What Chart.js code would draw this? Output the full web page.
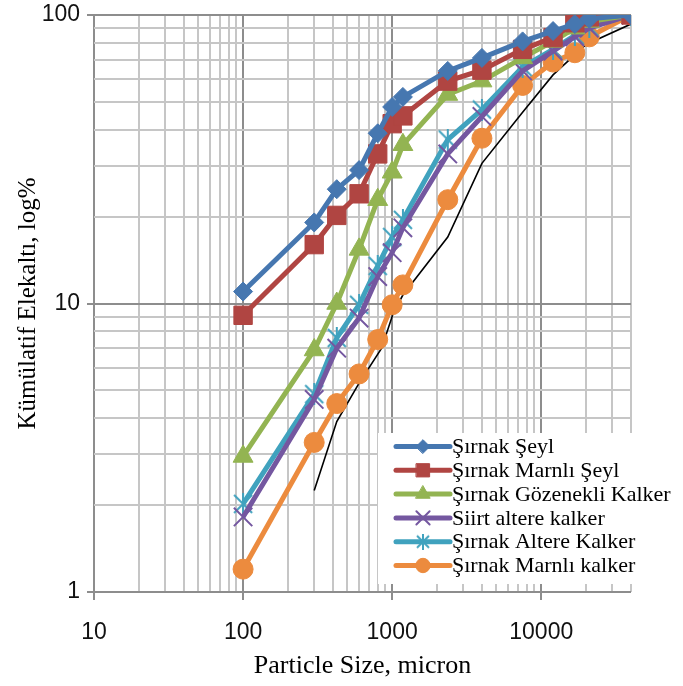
<!DOCTYPE html>
<html><head><meta charset="utf-8">
<script src="https://cdn.jsdelivr.net/npm/chart.js@4"></script>
<style>html,body{margin:0;padding:0;background:#fff}</style>
</head><body>
<canvas id="c" width="683" height="686" style="width:683px;height:686px;display:block"></canvas>
<script>
// ---- data ----
const particleSizes = [100, 300, 425, 600, 800, 1000, 1180, 2360, 4000, 7500, 12000, 16800, 21000, 40000];
const sirnakSeyl        = [11, 19.1, 24.9, 29, 38.9, 48, 52, 64, 71, 81, 88, 93, 97, 100];
const sirnakMarnliSeyl  = [9.1, 16, 20.2, 24, 33, 42, 44.7, 59, 64.4, 76, 83.5, 94, 98.5, 100];
const sirnakGozenekli   = [2.95, 6.9, 10, 15.4, 22.9, 28.5, 35.5, 53, 59, 71, 81, 90, 95, 100];
const siirtAltere       = [1.82, 4.65, 7.0, 8.9, 12.4, 15, 18.3, 33, 44.5, 64, 75, 84, 90, 100];
const sirnakAltere      = [2.02, 4.85, 7.6, 9.9, 13.5, 17, 19.5, 37, 47, 66, 76, 85, 91, 100];
const sirnakMarnliKalker= [1.2, 3.3, 4.5, 5.7, 7.5, 9.9, 11.6, 22.9, 37.4, 57, 68.7, 74, 84, 100];
const refSizes  = [300, 425, 600, 850, 1020, 1180, 2360, 4000, 7500, 12000, 20000, 40000];
const refValues = [2.25, 3.9, 5.3, 7.0, 9.3, 10.7, 17, 30.6, 46, 62, 79, 93];
const seriesNames = ['Şırnak Şeyl', 'Şırnak Marnlı Şeyl', 'Şırnak Gözenekli Kalker', 'Siirt altere kalker', 'Şırnak Altere Kalker', 'Şırnak Marnlı kalker'];
const xTickLabels = ['10', '100', '1000', '10000'];
const yTickLabels = ['1', '10', '100'];
const xTitle = 'Particle Size, micron';
const yTitle = 'Kümülatif Elekaltı, log%';

const colors = ['#4677b0', '#b04542', '#93b452', '#7457a0', '#40a2be', '#ec8b3e'];

function starMarker(color, size) {
  const c = document.createElement('canvas');
  c.width = size; c.height = size;
  const g = c.getContext('2d');
  g.strokeStyle = color; g.lineWidth = 2;
  const m = 2, s = size - 2;
  g.beginPath();
  g.moveTo(m, m); g.lineTo(s, s);
  g.moveTo(s, m); g.lineTo(m, s);
  g.moveTo(size / 2, 0); g.lineTo(size / 2, size);
  g.stroke();
  return c;
}
const tealStar = starMarker(colors[4], 22);
const tealStarSmall = starMarker(colors[4], 16);

const pointSpecs = [
  {style: 'rectRot', r: 9.5, bw: 1},
  {style: 'rect', r: 13, bw: 1},
  {style: 'triangle', r: 11.5, bw: 1},
  {style: 'crossRot', r: 13, bw: 2},
  {style: tealStar, r: 11, bw: 2},
  {style: 'circle', r: 10, bw: 1}
];
const seriesValues = [sirnakSeyl, sirnakMarnliSeyl, sirnakGozenekli, siirtAltere, sirnakAltere, sirnakMarnliKalker];

function toPoints(xs, ys) { return xs.map((x, i) => ({x: x, y: ys[i]})); }

const datasets = seriesValues.map((vals, i) => ({
  label: seriesNames[i],
  data: toPoints(particleSizes, vals),
  borderColor: colors[i],
  backgroundColor: colors[i],
  borderWidth: 5,
  pointStyle: pointSpecs[i].style,
  pointRadius: pointSpecs[i].r,
  pointBorderWidth: pointSpecs[i].bw,
  pointBackgroundColor: colors[i],
  pointBorderColor: colors[i],
  tension: 0
}));
datasets.push({
  label: 'ref',
  data: toPoints(refSizes, refValues),
  borderColor: '#000',
  borderWidth: 1.6,
  pointRadius: 0,
  tension: 0
});

function decadeTicks(min, max) {
  const out = [];
  for (let d = min; d < max * 1.0001; d *= 10) {
    for (let k = 1; k <= 9; k++) {
      const v = Math.round(d * k);
      if (v >= min && v <= max) out.push({value: v, major: k === 1});
    }
  }
  return out;
}
const majorColor = '#8d8d8d', minorColor = '#c6c6c6';

const legendPlugin = {
  id: 'customLegend',
  afterDatasetsDraw(chart) {
    const ctx = chart.ctx;
    ctx.save();
    ctx.fillStyle = '#fff';
    ctx.fillRect(378, 433, 305, 151);
    const y0 = 446.5, dy = 23.8;
    seriesNames.forEach((name, i) => {
      const y = y0 + dy * i;
      ctx.strokeStyle = colors[i];
      ctx.lineWidth = 5;
      ctx.lineCap = 'round';
      ctx.beginPath(); ctx.moveTo(396, y); ctx.lineTo(450, y); ctx.stroke();
      ctx.fillStyle = colors[i];
      ctx.strokeStyle = colors[i];
      ctx.lineWidth = pointSpecs[i].bw;
      const st = i === 4 ? tealStarSmall : pointSpecs[i].style;
      Chart.helpers.drawPoint(ctx, {pointStyle: st, radius: pointSpecs[i].r * 0.72, borderWidth: pointSpecs[i].bw, rotation: 0}, 423, y);
      ctx.fillStyle = '#000';
      ctx.font = '22px "Liberation Serif"';
      ctx.textBaseline = 'middle';
      ctx.textAlign = 'left';
      ctx.fillText(name, 452, y + 1);
    });
    ctx.restore();
  }
};
const bgPlugin = {
  id: 'bg',
  beforeDraw(chart) { const c = chart.ctx; c.save(); c.fillStyle = '#fff'; c.fillRect(0, 0, chart.width, chart.height); c.restore(); }
};

new Chart(document.getElementById('c'), {
  type: 'line',
  data: {datasets: datasets},
  plugins: [bgPlugin, legendPlugin],
  options: {
    responsive: false,
    animation: false,
    devicePixelRatio: 1,
    layout: {padding: {top: 15, right: 52, left: 0, bottom: 0}},
    plugins: {legend: {display: false}, tooltip: {enabled: false}},
    scales: {
      x: {
        type: 'logarithmic', min: 10, max: 40000, position: 'bottom',
        afterBuildTicks: (s) => { s.ticks = decadeTicks(10, 40000); },
        afterFit: (s) => { s.height = 94; s.paddingLeft = 0; s.paddingRight = 0; },
        grid: {
          color: (c) => (c.tick && c.tick.major) ? majorColor : minorColor,
          tickColor: (c) => (c.tick && c.tick.major) ? majorColor : 'rgba(0,0,0,0)',
          lineWidth: 2, tickLength: 8
        },
        border: {display: false},
        ticks: {
          autoSkip: false, maxRotation: 0, minRotation: 0, padding: 19,
          color: '#111', font: {family: '"Liberation Sans"', size: 23},
          callback: (v) => { const i = xTickLabels.indexOf(String(v)); return i >= 0 ? xTickLabels[i] : ''; }
        },
        title: {display: true, text: xTitle, color: '#000', font: {family: '"Liberation Serif"', size: 26}, padding: {top: 0, bottom: 4}}
      },
      y: {
        type: 'logarithmic', min: 1, max: 100,
        afterBuildTicks: (s) => { s.ticks = decadeTicks(1, 100); },
        afterFit: (s) => { s.width = 94; s.paddingTop = 0; s.paddingBottom = 0; },
        grid: {
          color: (c) => (c.tick && c.tick.major) ? majorColor : minorColor,
          tickColor: (c) => (c.tick && c.tick.major) ? majorColor : 'rgba(0,0,0,0)',
          lineWidth: 2, tickLength: 7
        },
        border: {display: false},
        ticks: {
          autoSkip: false, padding: 7,
          color: '#111', font: {family: '"Liberation Sans"', size: 23},
          callback: (v) => { const i = yTickLabels.indexOf(String(v)); return i >= 0 ? yTickLabels[i] : ''; }
        },
        title: {display: true, text: yTitle, color: '#000', font: {family: '"Liberation Serif"', size: 25}, padding: {top: 13, bottom: 0}}
      }
    }
  }
});
</script>
</body></html>
